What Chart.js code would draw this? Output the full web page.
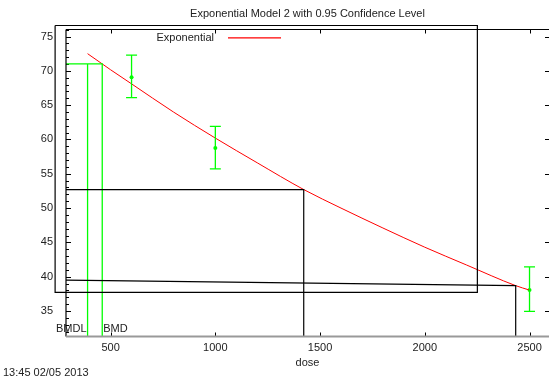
<!DOCTYPE html>
<html lang="en">
<head>
  <meta charset="UTF-8" />
  <title>Exponential Model 2</title>
  <script src="https://cdn.jsdelivr.net/npm/chart.js"></script>
  <style>
    html, body { margin: 0; padding: 0; background: #fff; }
    canvas { display: block; }
  </style>
</head>
<body>
  <canvas id="bmdChart" width="553" height="382"></canvas>

  <script>
    // observed dose groups with mean and 95% interval
    const doses = [600, 1000, 2500];
    const means = [69.08, 58.75, 38.05];
    const upper = [72.28, 61.9, 41.44];
    const lower = [66.08, 55.7, 34.96];

    // fitted exponential curve
    const curveDose = [390, 500, 600, 800, 1000, 1200, 1422, 1600, 1800, 2000, 2200, 2434, 2500];
    const curveResp = [72.5, 70.15, 68.1, 64.0, 60.2, 56.6, 52.7, 50.0, 47.1, 44.3, 41.7, 38.7, 38.05];

    // benchmark dose lines
    const bmdLevel = 71.0;
    const bmd = 460;
    const bmdl = 390;

    // leftover black frame / lines in the picture
    const boxDose = [235, 2251, 2251, 235, 235];
    const boxResp = [76.6, 76.6, 37.72, 37.72, 76.6];
    const line1Dose = [287, 1422, 1422];
    const line1Resp = [52.7, 52.7, 31.29];
    const line2Dose = [287, 2434, 2434];
    const line2Resp = [39.51, 38.71, 31.29];

    const xTicks = [500, 1000, 1500, 2000, 2500];
    const yTicks = [35, 40, 45, 50, 55, 60, 65, 70, 75];
    const xMin = 287, xMax = 2593;
    const yMin = 31.29, yMax = 76.02;

    const FONT = "'Liberation Sans', Arial, sans-serif";
    const GREEN = '#00ff00';
    const RED = 'rgb(255, 0, 0)';

    const pts = (xs, ys) => xs.map((v, i) => ({ x: v, y: ys[i] }));

    const overlay = {
      id: 'overlay',
      beforeDatasetsDraw(chart) {
        const { ctx, chartArea: a, scales: { x, y } } = chart;
        ctx.save();
        // top border
        ctx.strokeStyle = '#000';
        ctx.lineWidth = 1;
        ctx.beginPath();
        ctx.moveTo(a.left, a.top);
        ctx.lineTo(a.right, a.top);
        ctx.stroke();
        // ticks on top / bottom
        ctx.beginPath();
        xTicks.forEach(v => {
          const px = Math.round(x.getPixelForValue(v)) + 0.5;
          ctx.moveTo(px, a.top); ctx.lineTo(px, a.top + 4);
          ctx.moveTo(px, a.bottom); ctx.lineTo(px, a.bottom - 4);
        });
        // major y ticks left and right
        yTicks.forEach(v => {
          const py = Math.round(y.getPixelForValue(v)) + 0.5;
          ctx.moveTo(a.left, py); ctx.lineTo(a.left + 5, py);
          ctx.moveTo(a.right, py); ctx.lineTo(a.right - 4, py);
        });
        // minor ticks on the left
        for (let v = Math.ceil(y.min); v <= y.max; v++) {
          if (v % 5 === 0) continue;
          const py = Math.round(y.getPixelForValue(v)) + 0.5;
          ctx.moveTo(a.left, py); ctx.lineTo(a.left + 3, py);
        }
        ctx.stroke();
        ctx.restore();
      },
      afterDatasetsDraw(chart) {
        const { ctx, chartArea: a, scales: { x, y } } = chart;
        ctx.save();
        // error bars
        ctx.strokeStyle = GREEN;
        ctx.lineWidth = 1.3;
        doses.forEach((d, i) => {
          const px = x.getPixelForValue(d);
          const lo = y.getPixelForValue(lower[i]);
          const hi = y.getPixelForValue(upper[i]);
          ctx.beginPath();
          ctx.moveTo(px, lo); ctx.lineTo(px, hi);
          ctx.moveTo(px - 5.5, lo); ctx.lineTo(px + 5.5, lo);
          ctx.moveTo(px - 5.5, hi); ctx.lineTo(px + 5.5, hi);
          ctx.stroke();
        });

        // axes lines
        ctx.strokeStyle = '#000';
        ctx.lineWidth = 1.2;
        ctx.beginPath();
        ctx.moveTo(a.left, a.top); ctx.lineTo(a.left, a.bottom);
        ctx.stroke();
        ctx.strokeStyle = '#999';
        ctx.lineWidth = 2;
        ctx.beginPath();
        ctx.moveTo(a.left, a.bottom); ctx.lineTo(a.right, a.bottom);
        ctx.stroke();

        // legend sample line
        ctx.strokeStyle = RED;
        ctx.lineWidth = 1.2;
        ctx.beginPath();
        ctx.moveTo(228, 37.8);
        ctx.lineTo(281, 37.8);
        ctx.stroke();

        // texts
        ctx.fillStyle = '#222';
        ctx.font = '11px ' + FONT;
        ctx.textBaseline = 'middle';
        ctx.textAlign = 'center';
        ctx.fillText('Exponential Model 2 with 0.95 Confidence Level', (a.left + a.right) / 2, 14);

        ctx.textAlign = 'left';
        ctx.fillText('13:45 02/05 2013', 3, 373);

        ctx.textAlign = 'right';
        ctx.fillText('Exponential', 214, 38);

        // BMD labels
        const yl = a.bottom - 8;
        ctx.textAlign = 'right';
        ctx.fillText('BMDL', x.getPixelForValue(bmdl) - 1, yl);
        ctx.textAlign = 'left';
        ctx.fillText('BMD', x.getPixelForValue(bmd) + 1, yl);
        ctx.restore();
      }
    };

    const ctx = document.getElementById('bmdChart').getContext('2d');
    new Chart(ctx, {
      type: 'scatter',
      data: {
        datasets: [
          {
            label: 'box',
            data: pts(boxDose, boxResp),
            showLine: true, borderColor: '#000', borderWidth: 1.2,
            pointRadius: 0, clip: false
          },
          {
            label: 'line1',
            data: pts(line1Dose, line1Resp),
            showLine: true, borderColor: '#000', borderWidth: 1.2, pointRadius: 0
          },
          {
            label: 'line2',
            data: pts(line2Dose, line2Resp),
            showLine: true, borderColor: '#000', borderWidth: 1.2, pointRadius: 0
          },
          {
            label: 'BMD',
            data: [{ x: xMin, y: bmdLevel }, { x: bmd, y: bmdLevel }, { x: bmd, y: yMin }],
            showLine: true, borderColor: GREEN, borderWidth: 1.3, pointRadius: 0
          },
          {
            label: 'BMDL',
            data: [{ x: bmdl, y: bmdLevel }, { x: bmdl, y: yMin }],
            showLine: true, borderColor: GREEN, borderWidth: 1.3, pointRadius: 0
          },
          {
            label: 'Exponential',
            data: pts(curveDose, curveResp),
            showLine: true, borderColor: RED, borderWidth: 1,
            pointRadius: 0, cubicInterpolationMode: 'monotone'
          },
          {
            label: 'Data',
            data: pts(doses, means),
            showLine: false, pointRadius: 2, pointBorderWidth: 0,
            backgroundColor: GREEN, borderColor: GREEN
          }
        ]
      },
      options: {
        responsive: false,
        animation: false,
        devicePixelRatio: 1,
        layout: { padding: { top: 29.5, right: 0, left: 0, bottom: 0 } },
        plugins: {
          legend: { display: false },
          tooltip: { enabled: false },
          title: { display: false }
        },
        scales: {
          x: {
            type: 'linear',
            min: xMin, max: xMax,
            afterBuildTicks: s => { s.ticks = xTicks.map(v => ({ value: v })); },
            afterFit: s => { s.height = 45.5; },
            grid: { display: false, drawTicks: false },
            border: { display: false },
            ticks: {
              color: '#222', font: { family: FONT, size: 11 }, padding: 5, maxRotation: 0,
              callback: v => String(v)
            },
            title: {
              display: true, text: 'dose', color: '#222',
              font: { family: FONT, size: 11 }, padding: { top: 0, bottom: 12 }
            }
          },
          y: {
            type: 'linear',
            min: yMin, max: yMax,
            afterBuildTicks: s => { s.ticks = yTicks.map(v => ({ value: v })); },
            afterFit: s => { s.width = 66; },
            grid: { display: false, drawTicks: false },
            border: { display: false },
            ticks: {
              color: '#222', font: { family: FONT, size: 11 }, padding: 13,
              callback: v => String(v)
            }
          }
        }
      },
      plugins: [overlay]
    });
  </script>
</body>
</html>
